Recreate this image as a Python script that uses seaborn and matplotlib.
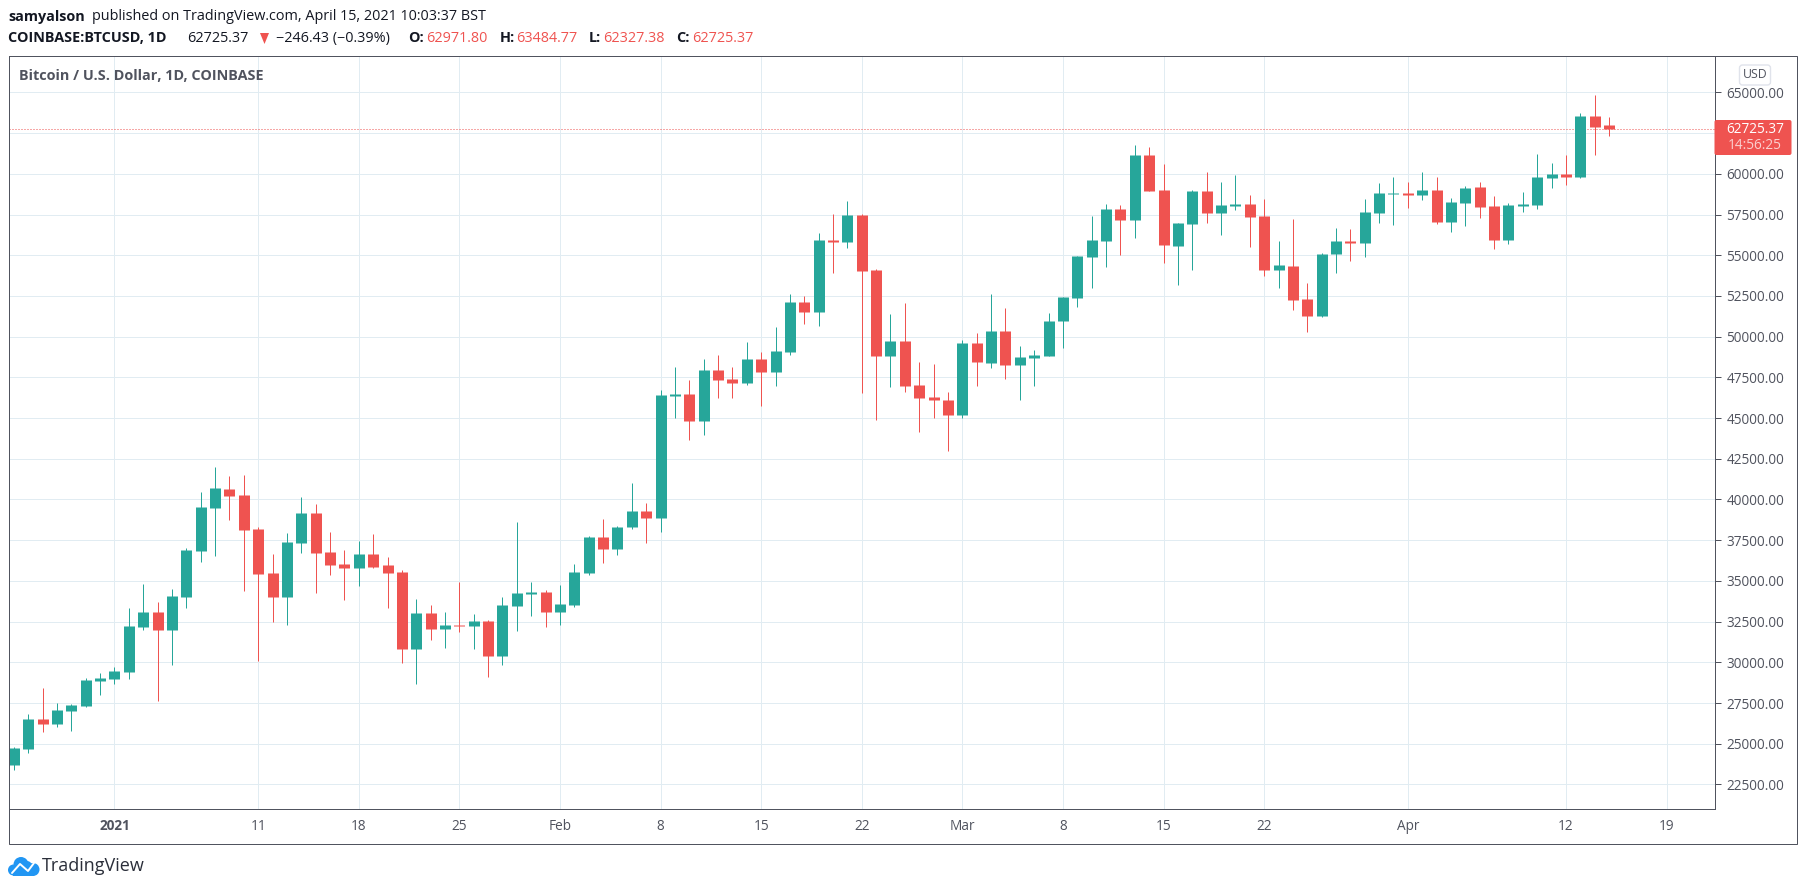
import pandas as pd
import seaborn as sns
import matplotlib.pyplot as plt
from matplotlib.patches import Rectangle, FancyBboxPatch, Circle, Polygon

# daily candles, 2020-12-25 to 2021-04-15
opens = [23686, 24668, 26508, 26202, 26999, 27306, 28840, 28962, 29392, 32153, 33073, 31968, 33993, 36815, 39453, 40619,
         40251, 38165, 35465, 33993, 37306, 39146, 36754, 36018, 35772, 36631, 35956, 35527, 30803, 33011, 32030, 32275,
         32214, 32521, 30373, 33441, 34177, 34300, 33073, 33502, 35465, 37674, 36938, 38288, 39269, 38840, 46386, 46508,
         44791, 47981, 47429, 47183, 48656, 47858, 49085, 52153, 51539, 55956, 55834, 57490, 54116, 48840, 49760, 47061,
         46324, 46140, 45159, 49637, 48410, 50373, 48288, 48717, 48840, 50941, 52352, 54867, 55849, 57812, 57137, 61186,
         58977, 55542, 56892, 58916, 57566, 57996, 58119, 57382, 54069, 54315, 52290, 51247, 55051, 55849, 55726, 57566,
         58732, 58793, 58671, 58977, 57014, 58180, 59162, 57996, 55910, 57996, 58057, 59714, 59959, 59775, 63579, 62971.80]
highs = [24791, 26815, 28410, 27490, 27429, 29024, 29330, 29699, 33318, 34791, 33686, 34484, 36999, 40435, 41969, 41416,
         41478, 38288, 36631, 37919, 40128, 39699, 37981, 36876, 37429, 37858, 36447, 35649, 33870, 33502, 33073, 34913,
         32950, 32582, 33993, 38594, 34913, 34422, 34729, 36018, 37735, 38778, 38349, 40987, 39760, 46754, 48165, 47367,
         48656, 48901, 48165, 49699, 49085, 50619, 52643, 52521, 56386, 57551, 58349, 57551, 54177, 51416, 52091, 48472,
         48349, 46631, 49821, 50251, 52643, 51785, 49453, 49208, 51478, 52430, 54928, 57382, 58119, 58057, 61800, 61677,
         60573, 56953, 58977, 60082, 59468, 59898, 58671, 58425, 55849, 57198, 53272, 55112, 56646, 56585, 58425, 59407,
         59775, 59468, 60082, 59775, 58487, 59223, 59468, 58609, 58180, 58855, 61247, 60634, 61186, 63763, 64867, 63484.77]
lows = [23379, 24422, 25711, 26018, 25772, 27245, 27981, 28656, 28962, 31968, 27613, 29821, 33318, 36140, 36508, 38717,
        34361, 30067, 32459, 32275, 36692, 34238, 35343, 33809, 34668, 35800, 33318, 29944, 28656, 31355, 30864, 31846,
        30803, 29085, 29821, 31907, 32827, 32153, 32275, 33380, 35343, 36079, 36570, 38165, 37306, 37981, 44975, 43625,
        43932, 46263, 46263, 47061, 45711, 46999, 48901, 50803, 50680, 53932, 55466, 46570, 44852, 46938, 46631, 44116,
        44975, 42950, 44975, 46999, 48104, 47429, 46140, 46999, 48840, 49284, 51800, 52965, 54254, 54990, 56033, 58916,
        54499, 53149, 54069, 56953, 56217, 57750, 55481, 53701, 52965, 51615, 50266, 51186, 53885, 54622, 54867, 56953,
        56830, 57873, 58364, 56892, 56401, 56769, 57260, 55358, 55665, 57628, 57812, 59100, 59284, 59714, 61186, 62327.38]
closes = [24729, 26508, 26202, 27060, 27367, 28901, 29024, 29453, 32214, 33073, 31968, 34054, 36876, 39515, 40680, 40189,
          38103, 35404, 33993, 37367, 39146, 36692, 35956, 35772, 36631, 35834, 35465, 30803, 33011, 32030, 32275, 32214,
          32521, 30373, 33502, 34238, 34300, 33073, 33564, 35527, 37674, 36938, 38288, 39269, 38840, 46447, 46508, 44791,
          47981, 47367, 47183, 48656, 47858, 49146, 52153, 51539, 55956, 55834, 57490, 54054, 48840, 49760, 46999, 46263,
          46140, 45159, 49637, 48472, 50373, 48288, 48778, 48901, 50987, 52413, 54928, 55910, 57812, 57137, 61186, 58916,
          55603, 56953, 58916, 57566, 58057, 58119, 57321, 54069, 54376, 52229, 51247, 55051, 55849, 55726, 57628, 58793,
          58793, 58671, 58977, 57014, 58241, 59100, 57935, 55910, 58057, 58119, 59775, 59959, 59775, 63579, 62904, 62725.37]

price_ticks = [22500, 25000, 27500, 30000, 32500, 35000, 37500, 40000, 42500, 45000, 47500, 50000, 52500, 55000,
               57500, 60000, 62500, 65000]
time_ticks = ["2021-01-01", "2021-01-11", "2021-01-18", "2021-01-25", "2021-02-01", "2021-02-08", "2021-02-15",
              "2021-02-22", "2021-03-01", "2021-03-08", "2021-03-15", "2021-03-22", "2021-04-01", "2021-04-12",
              "2021-04-19"]
time_labels = ["2021", "11", "18", "25", "Feb", "8", "15", "22", "Mar", "8", "15", "22", "Apr", "12", "19"]

last_price = 62725.37
GREEN = "#26a69a"
RED = "#ef5350"
INK = "#50535e"
GRID = "#e1ecf2"
W, H = 1805, 890

sns.set_theme(style="white", rc={"axes.edgecolor": INK, "axes.linewidth": 0.72})
plt.rcParams["font.family"] = ["Open Sans", "DejaVu Sans"]

dates = list(pd.date_range("2020-12-25", periods=len(closes)))
direction = ["up" if c >= o else "down" for o, c in zip(opens, closes)]
wicks = pd.DataFrame({"date": dates * 2, "price": highs + lows, "direction": direction * 2})
bodies = pd.DataFrame({"date": dates * 2, "price": opens + closes, "direction": direction * 2})
palette = {"up": GREEN, "down": RED}

fig = plt.figure(figsize=(W / 100, H / 100), dpi=100)
ax = fig.add_axes([8.5 / W, 1 - 808.5 / H, 1706 / W, 753 / H])

sns.lineplot(data=wicks, x="date", y="price", hue="direction", units="date", estimator=None, palette=palette,
             linewidth=0.72, legend=False, ax=ax, zorder=3, solid_capstyle="butt")
sns.lineplot(data=bodies, x="date", y="price", hue="direction", units="date", estimator=None, palette=palette,
             linewidth=7.92, legend=False, ax=ax, zorder=3, solid_capstyle="butt")

jan1 = pd.Timestamp("2021-01-01")
ax.set_xlim(jan1 + pd.Timedelta(days=-7.376), jan1 + pd.Timedelta(days=111.34))
ax.set_ylim(21024, 67266)
ax.set_xlabel("")
ax.set_ylabel("")

ax.yaxis.tick_right()
ax.set_yticks(price_ticks)
ax.set_yticklabels([f"{p:.2f}" for p in price_ticks], fontsize=9.8, color=INK)
ax.set_xticks([pd.Timestamp(t) for t in time_ticks])
ax.set_xticklabels(time_labels, fontsize=9.8, color=INK)
ax.get_xticklabels()[0].set_fontweight("bold")
ax.tick_params(axis="both", length=4.3, width=0.72, color=INK)
ax.tick_params(axis="y", pad=4.3)
ax.tick_params(axis="x", pad=3.5)
ax.grid(True, color=GRID, linewidth=0.72, zorder=0)
ax.set_axisbelow(True)
ax.axhline(last_price, color=RED, linewidth=0.72, linestyle=(0, (1, 2)), zorder=2)

# everything else sits on a pixel overlay
over = fig.add_axes([0, 0, 1, 1], zorder=5)
over.set_xlim(0, W)
over.set_ylim(H, 0)
over.axis("off")

over.add_patch(Rectangle((8.5, 55.5), 1788, 788, fill=False, edgecolor=INK, linewidth=0.72))

# price tag
over.add_patch(FancyBboxPatch((1714.5, 120), 77, 35, boxstyle="round,pad=0,rounding_size=2", facecolor=RED, edgecolor="none"))
over.text(1755, 129.5, "62725.37", color="white", fontsize=9.8, ha="center", va="center")
over.text(1755, 145.5, "14:56:25", color="#fbd0cf", fontsize=9.8, ha="center", va="center")

# currency badge
over.add_patch(FancyBboxPatch((1739.5, 65), 31, 20, boxstyle="round,pad=0,rounding_size=3", facecolor="white",
                              edgecolor="#e0e3eb", linewidth=1.0))
over.text(1755, 74.5, "USD", color=INK, fontsize=8.8, ha="center", va="center")

# header
DARK = "#131722"
over.text(8, 17, "samyalson", color=DARK, fontsize=10.4, fontweight="bold", va="center")
over.text(92, 17, "published on TradingView.com, April 15, 2021 10:03:37 BST", color=DARK, fontsize=10.4, va="center")
y2 = 38.5
over.text(8, y2, "COINBASE:BTCUSD, 1D", color=DARK, fontsize=10.4, fontweight="bold", va="center")
over.text(187, y2, "62725.37", color=DARK, fontsize=10.4, va="center")
over.add_patch(Polygon([(260, 33), (269, 33), (264.5, 44)], closed=True, facecolor=RED, edgecolor="none"))
over.text(276, y2, "\u2212246.43 (\u22120.39%)", color=DARK, fontsize=10.4, va="center")
for lab, x_lab, val, x_val in [("O:", 408, "62971.80", 426), ("H:", 500, "63484.77", 516),
                               ("L:", 589, "62327.38", 603), ("C:", 676, "62725.37", 692)]:
    over.text(x_lab, y2, lab, color=DARK, fontsize=10.4, fontweight="bold", va="center")
    over.text(x_val, y2, val, color=RED, fontsize=10.4, va="center")

over.text(19, 76.5, "Bitcoin / U.S. Dollar, 1D, COINBASE", color=INK, fontsize=10.4, fontweight="bold", va="center")

# logo
BLUE = "#2196f3"
for cx, cy, r in [(21, 864.5, 7.5), (13.5, 870, 5.5), (33, 869.5, 6.5), (27, 866, 5)]:
    over.add_patch(Circle((cx, cy), r, facecolor=BLUE, edgecolor="none"))
over.add_patch(Rectangle((13, 868), 21, 7.8, facecolor=BLUE, edgecolor="none"))
over.plot([12, 20, 28, 34], [873, 864, 871, 863], color="white", linewidth=1.4)
over.text(42, 866, "TradingView", color="#2a2e39", fontsize=13, va="center")

fig.savefig("out.png", dpi=100)
